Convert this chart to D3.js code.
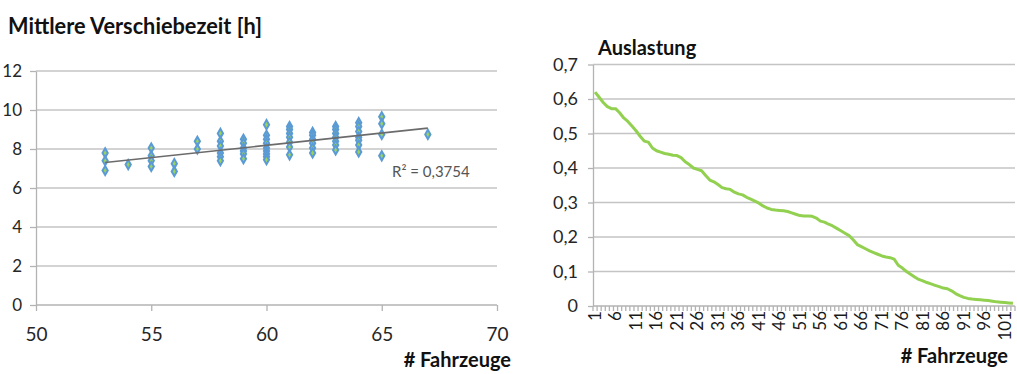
<!DOCTYPE html>
<meta charset="utf-8">
<style>
body { margin: 0; background: #fff; }
text { font-family: Lato, "Open Sans", sans-serif; fill: #262626; }
.grid line { stroke: #c4c4c4; stroke-width: 1.5; }
.axis path, .axis line { stroke: #b3b3b3; stroke-width: 1.3; }
</style>
<svg width="1017" height="374"></svg>
<script src="https://cdn.jsdelivr.net/npm/d3@7"></script>
<script>

// left chart: scatter of mean shunting time vs. number of vehicles
var scatterX = [53,53,53, 54, 55,55,55,55, 56,56, 57,57,
  58,58,58,58,58,58, 59,59,59,59,59,59,
  60,60,60,60,60,60,60,60,60, 61,61,61,61,61,61,61,
  62,62,62,62,62,62, 63,63,63,63,63,63,63,
  64,64,64,64,64,64,64, 65,65,65,65, 67];
var scatterY = [7.8,7.4,6.9, 7.2, 8.05,7.65,7.4,7.1, 7.25,6.85, 8.4,8.0,
  8.8,8.4,8.15,7.8,7.6,7.4, 8.5,8.3,8.05,7.9,7.75,7.5,
  9.25,8.7,8.5,8.3,8.05,7.9,7.75,7.6,7.45, 9.15,9.0,8.8,8.6,8.35,8.1,7.7,
  8.85,8.7,8.5,8.3,8.05,7.8, 9.15,9.0,8.8,8.6,8.4,8.2,7.95,
  9.35,9.15,8.9,8.6,8.45,8.2,7.85, 9.65,9.3,8.75,7.65, 8.75];
var leftXTicks = [50, 55, 60, 65, 70];
var leftYTicks = [0, 2, 4, 6, 8, 10, 12];
var rSquared = "R² = 0,3754";

// right chart: utilisation per vehicle (sorted)
var auslastung = [0.620,0.605,0.590,0.578,0.572,0.572,0.560,0.545,0.535,0.522,
  0.508,0.492,0.478,0.475,0.458,0.450,0.446,0.442,0.440,0.437,
  0.436,0.430,0.418,0.410,0.400,0.396,0.392,0.378,0.365,0.360,
  0.352,0.343,0.340,0.338,0.330,0.325,0.322,0.315,0.310,0.304,
  0.298,0.290,0.284,0.280,0.278,0.277,0.276,0.274,0.270,0.266,
  0.262,0.261,0.261,0.260,0.255,0.246,0.243,0.237,0.232,0.225,
  0.218,0.211,0.204,0.192,0.178,0.172,0.166,0.160,0.155,0.150,
  0.145,0.142,0.140,0.136,0.118,0.110,0.100,0.092,0.084,0.077,
  0.073,0.068,0.064,0.060,0.056,0.052,0.050,0.044,0.036,0.030,
  0.025,0.022,0.020,0.019,0.018,0.017,0.016,0.014,0.012,0.011,
  0.010,0.009,0.008];
var rightYTicks = [0, 0.1, 0.2, 0.3, 0.4, 0.5, 0.6, 0.7];

var svg = d3.select("svg");
var fmt = function(v) { return String(+v.toFixed(1)).replace(".", ","); };

// ---------- left ----------
var x1 = d3.scaleLinear().domain([50, 70]).range([36, 497]);
var y1 = d3.scaleLinear().domain([0, 12]).range([305, 71]);

svg.append("text").attr("x", 8).attr("y", 34)
  .attr("font-weight", "bold").style("font-size", "22px").style("fill", "#111")
  .attr("textLength", 254).attr("lengthAdjust", "spacingAndGlyphs")
  .text("Mittlere Verschiebezeit [h]");

svg.append("g").attr("class", "grid")
  .selectAll("line").data(leftYTicks.slice(1)).enter().append("line")
  .attr("x1", x1(50)).attr("x2", x1(70))
  .attr("y1", function(d) { return y1(d); }).attr("y2", function(d) { return y1(d); });

var gy1 = svg.append("g").attr("class", "axis")
  .attr("transform", "translate(" + x1(50) + ",0)")
  .call(d3.axisLeft(y1).tickValues(leftYTicks).tickSize(6).tickSizeOuter(0).tickPadding(8));
gy1.selectAll("text").style("font-size", "17px");

var gx1 = svg.append("g").attr("class", "axis")
  .attr("transform", "translate(0," + y1(0) + ")")
  .call(d3.axisBottom(x1).tickValues(leftXTicks).tickSize(6).tickSizeOuter(0).tickPadding(17));
gx1.selectAll("text").style("font-size", "19px");
gx1.select(".domain").attr("d", "M" + x1(50) + ",0H" + x1(70));

// trend line from least squares
var pts = scatterX.map(function(v, i) { return [v, scatterY[i]]; });
var mx = d3.mean(pts, function(d) { return d[0]; });
var my = d3.mean(pts, function(d) { return d[1]; });
var slope = d3.sum(pts, function(d) { return (d[0] - mx) * (d[1] - my); }) /
            d3.sum(pts, function(d) { return (d[0] - mx) * (d[0] - mx); });
var icpt = my - slope * mx;
var xr = d3.extent(scatterX);

svg.selectAll(".pt").data(pts).enter().append("path")
  .attr("class", "pt")
  .attr("d", d3.symbol(d3.symbolDiamond, 24))
  .attr("transform", function(d) { return "translate(" + x1(d[0]) + "," + y1(d[1]) + ")"; })
  .attr("fill", "#9bd35a").attr("stroke", "#5b9bd5").attr("stroke-width", 2);

svg.append("line")
  .attr("x1", x1(xr[0])).attr("y1", y1(icpt + slope * xr[0]))
  .attr("x2", x1(xr[1])).attr("y2", y1(icpt + slope * xr[1]))
  .attr("stroke", "#6b6b6b").attr("stroke-width", 1.6);

svg.append("text").attr("x", 392).attr("y", 177)
  .style("font-size", "15px").style("fill", "#555").text(rSquared);

svg.append("text").attr("x", 511).attr("y", 367).attr("text-anchor", "end")
  .attr("font-weight", "bold").style("font-size", "20px").style("fill", "#111")
  .text("# Fahrzeuge");

// ---------- right ----------
var cats = d3.range(1, auslastung.length + 1);
var x2 = d3.scalePoint().domain(cats).range([593, 1015]).padding(0.5);
var y2 = d3.scaleLinear().domain([0, 0.7]).range([306, 64.5]);
var step = x2.step();

svg.append("text").attr("x", 598).attr("y", 55)
  .attr("font-weight", "bold").style("font-size", "20px").style("fill", "#111")
  .text("Auslastung");

svg.append("g").attr("class", "grid")
  .selectAll("line").data(rightYTicks.slice(1)).enter().append("line")
  .attr("x1", 593).attr("x2", 1015)
  .attr("y1", function(d) { return y2(d); }).attr("y2", function(d) { return y2(d); });

var gy2 = svg.append("g").attr("class", "axis")
  .attr("transform", "translate(593,0)")
  .call(d3.axisLeft(y2).tickValues(rightYTicks).tickFormat(fmt).tickSize(5).tickSizeOuter(0).tickPadding(10));
gy2.selectAll("text").style("font-size", "18px");

// category axis with a tick between every category
var gx2 = svg.append("g").attr("class", "axis");
gx2.append("line").attr("x1", 593).attr("x2", 1015).attr("y1", y2(0)).attr("y2", y2(0));
gx2.selectAll(".mt").data(d3.range(0, cats.length + 1)).enter().append("line")
  .attr("x1", function(d) { return 593 + d * step; })
  .attr("x2", function(d) { return 593 + d * step; })
  .attr("y1", y2(0)).attr("y2", y2(0) + 5)
  .attr("stroke-width", 0.8);
gx2.selectAll(".cl").data(cats.filter(function(c) { return (c - 1) % 5 === 0; }))
  .enter().append("text")
  .attr("transform", function(d) { return "translate(" + x2(d) + "," + (y2(0) + 5) + ") rotate(-90)"; })
  .attr("text-anchor", "end").attr("dy", "0.35em")
  .style("font-size", "17px").style("fill", "#1a1a1a")
  .text(function(d) { return d; });

svg.append("path").datum(auslastung)
  .attr("fill", "none").attr("stroke", "#92d050").attr("stroke-width", 3)
  .attr("stroke-linejoin", "round")
  .attr("d", d3.line().x(function(d, i) { return x2(i + 1); }).y(function(d) { return y2(d); }));

svg.append("text").attr("x", 1008).attr("y", 363).attr("text-anchor", "end")
  .attr("font-weight", "bold").style("font-size", "20px").style("fill", "#111")
  .text("# Fahrzeuge");

</script>
